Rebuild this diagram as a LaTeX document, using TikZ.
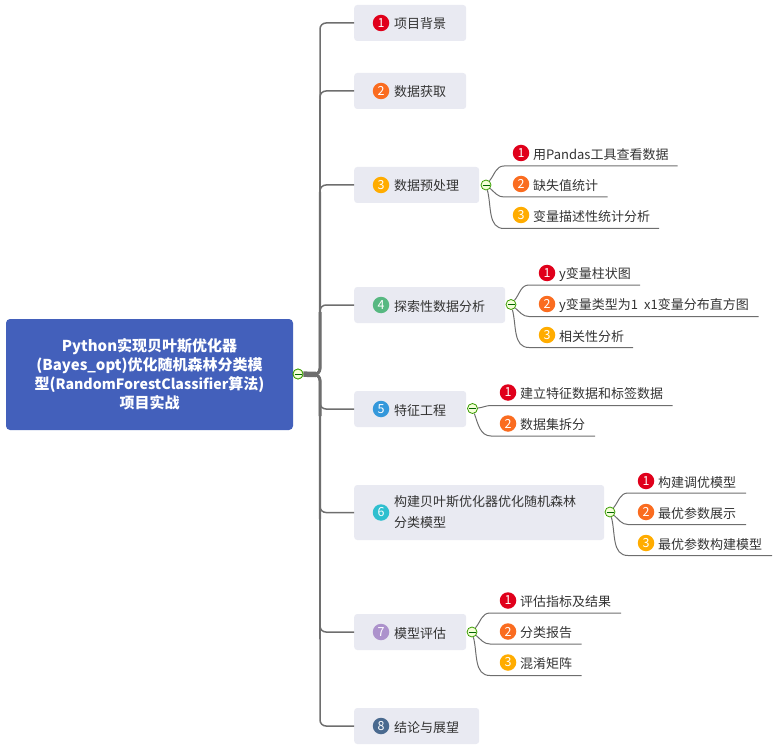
\documentclass[tikz,border=0pt]{standalone}
\usepackage{fontspec}
\setmainfont{Noto Sans CJK SC}
\definecolor{linegray}{HTML}{6E6E6E}
\definecolor{boxfill}{HTML}{E9EAF2}
\definecolor{rootfill}{HTML}{4360BB}
\definecolor{mred}{HTML}{E0001B}
\definecolor{morange}{HTML}{FA6C20}
\definecolor{myellow}{HTML}{FFAC00}
\definecolor{mgreen}{HTML}{57B881}
\definecolor{mblue}{HTML}{3498DB}
\definecolor{mteal}{HTML}{2FBFCF}
\definecolor{mpurple}{HTML}{AC92CC}
\definecolor{mslate}{HTML}{4A6A8F}
\tikzset{
    roottopic/.style={fill=rootfill, rounded corners=4pt, minimum width=287pt, minimum height=111pt, align=center, text=white, inner sep=0pt, font=\fontsize{15}{19}\selectfont\bfseries},
    topic/.style={fill=boxfill, rounded corners=3pt, anchor=west, inner xsep=20pt, inner ysep=0pt, minimum height=36pt, text=black!80, font=\fontsize{13}{21}\selectfont},
    oneline/.style={text height=13pt, text depth=1pt},
    leaf/.style={anchor=west, inner sep=0pt, text=black!80, font=\fontsize{13}{21}\selectfont},
    badge/.style={circle, minimum size=16.5pt, inner sep=0pt, text=white, font=\fontsize{12.5}{12}\selectfont},
    collapse/.style={circle, draw=green!45!black!70!lime, fill=green!25!yellow!15, line width=0.8pt, minimum size=10pt, inner sep=0pt, path picture={\draw[black!60!green, line width=0.8pt] ([xshift=1.5pt]path picture bounding box.west) -- ([xshift=-1.5pt]path picture bounding box.east);}},
    branch/.style={draw=linegray, line width=1.5pt, rounded corners=6pt},
    twig/.style={draw=linegray, line width=1pt},
}
\begin{document}
\begin{tikzpicture}[x=1pt, y=-1pt]
    \useasboundingbox (0,0) rectangle (782,754);

    \node[roottopic] at (149.5,374.5) (root) {Python实现贝叶斯优化器\\(Bayes\_opt)优化随机森林分类模\\型({\fontsize{14.2}{19}\selectfont RandomForestClassifier}算法)\\项目实战};
    \node[collapse] at (298,374) (c0) {};
    \coordinate (hub) at (320,374.5);
    \coordinate (up1) at (320,100);
    \coordinate (up2) at (320,192);
    \coordinate (up3) at (320,312);
    \coordinate (down1) at (320,416);
    \coordinate (down2) at (320,519);
    \coordinate (down3) at (320,639);
    \coordinate (stub) at (312,374.5);
    \coordinate (stubend) at (316,374.5);

    \node[topic, oneline] at (354,23) (n1) {\hspace*{20pt}项目背景};
    \node[topic, oneline] at (354,91) (n2) {\hspace*{20pt}数据获取};
    \node[topic, oneline] at (354,185) (n3) {\hspace*{20pt}数据预处理};
    \node[topic, oneline] at (354,305) (n4) {\hspace*{20pt}探索性数据分析};
    \node[topic, oneline] at (354,409) (n5) {\hspace*{20pt}特征工程};
    \node[topic, align=left, minimum height=55pt] at (354,512.5) (n6) {\hspace*{20pt}构建贝叶斯优化器优化随机森林\hspace*{8pt}\\\hspace*{20pt}分类模型};
    \node[topic, oneline] at (354,632) (n7) {\hspace*{20pt}模型评估};
    \node[topic, oneline] at (354,726) (n8) {\hspace*{20pt}结论与展望};

    \node[badge, fill=mred] at ([xshift=27pt]n1.west) (b1) {1};
    \node[badge, fill=morange] at ([xshift=27pt]n2.west) (b2) {2};
    \node[badge, fill=myellow] at ([xshift=27pt]n3.west) (b3) {3};
    \node[badge, fill=mgreen] at ([xshift=27pt]n4.west) (b4) {4};
    \node[badge, fill=mblue] at ([xshift=27pt]n5.west) (b5) {5};
    \node[badge, fill=mteal] at ([xshift=27pt]n6.west) (b6) {6};
    \node[badge, fill=mpurple] at ([xshift=27pt]n7.west) (b7) {7};
    \node[badge, fill=mslate] at ([xshift=27pt]n8.west) (b8) {8};

    \draw[branch] (stub) -- (hub) |- (n1.west);
    \draw[branch] (stub) -- (hub) |- (n2.west);
    \draw[branch] (stub) -- (hub) |- (n3.west);
    \draw[branch] (stub) -- (hub) |- (n4.west);
    \draw[branch] (stub) -- (hub) |- (n5.west);
    \draw[branch] (stub) -- (hub) |- (n6.west);
    \draw[branch] (stub) -- (hub) |- (n7.west);
    \draw[branch] (stub) -- (hub) |- (n8.west);
    \draw[branch, line width=1.9pt] (stub) -- (hub) -- (up1);
    \draw[branch, line width=2.4pt] (stub) -- (hub) -- (up2);
    \draw[branch, line width=3pt] (stub) -- (hub) -- (up3);
    \draw[branch, line width=3pt] (stub) -- (hub) -- (down1);
    \draw[branch, line width=2.4pt] (stub) -- (hub) -- (down2);
    \draw[branch, line width=1.9pt] (stub) -- (hub) -- (down3);
    \draw[branch, line width=5.5pt] (c0) -- (stubend);
    \node[collapse] at (c0) (c0top) {};

    \node[collapse] at (486,185) (c3) {};
    \node[collapse] at (511,304.5) (c4) {};
    \node[collapse] at (472.5,408.5) (c5) {};
    \node[collapse] at (610,512) (c6) {};
    \node[collapse] at (472,632) (c7) {};

    \node[badge, fill=mred] at (521,153) (b31) {1};
    \node[badge, fill=morange] at (521,184) (b32) {2};
    \node[badge, fill=myellow] at (521,215) (b33) {3};
    \node[leaf] at (533,155) (t31) {用Pandas工具查看数据};
    \node[leaf] at (533,186) (t32) {缺失值统计};
    \node[leaf] at (533,217) (t33) {变量描述性统计分析};
    \coordinate (s31) at (504,166);
    \coordinate (s32) at (504,197);
    \coordinate (s33) at (504,228.5);
    \coordinate (e31) at (677.5,166);
    \coordinate (e32) at (607.5,197);
    \coordinate (e33) at (659,228.5);
    \draw[twig] (c3) to[out=50, in=180] (s31) -- (e31);
    \draw[twig] (c3) to[out=-40, in=180] (s32) -- (e32);
    \draw[twig] (c3) to[out=-75, in=180] (s33) -- (e33);

    \node[badge, fill=mred] at (547,273) (b41) {1};
    \node[badge, fill=morange] at (547,304) (b42) {2};
    \node[badge, fill=myellow] at (547,335) (b43) {3};
    \node[leaf] at (559,275) (t41) {y变量柱状图};
    \node[leaf] at (559,306) (t42) {y变量类型为1~\hspace{3pt}x1变量分布直方图};
    \node[leaf] at (559,337) (t43) {相关性分析};
    \coordinate (s41) at (529,285);
    \coordinate (s42) at (529,316.5);
    \coordinate (s43) at (529,347.5);
    \coordinate (e41) at (640,285);
    \coordinate (e42) at (758.5,316.5);
    \coordinate (e43) at (633,347.5);
    \draw[twig] (c4) to[out=50, in=180] (s41) -- (e41);
    \draw[twig] (c4) to[out=-40, in=180] (s42) -- (e42);
    \draw[twig] (c4) to[out=-75, in=180] (s43) -- (e43);

    \node[badge, fill=mred] at (508,392.5) (b51) {1};
    \node[badge, fill=morange] at (508,423.5) (b52) {2};
    \node[leaf] at (520,394) (t51) {建立特征数据和标签数据};
    \node[leaf] at (520,425) (t52) {数据集拆分};
    \coordinate (s51) at (491,405.5);
    \coordinate (s52) at (491,436);
    \coordinate (e51) at (672.5,405.5);
    \coordinate (e52) at (595,436);
    \draw[twig] (c5) to[out=5, in=180] (s51) -- (e51);
    \draw[twig] (c5) to[out=-70, in=180] (s52) -- (e52);

    \node[badge, fill=mred] at (646,481) (b61) {1};
    \node[badge, fill=morange] at (646,512) (b62) {2};
    \node[badge, fill=myellow] at (646,543) (b63) {3};
    \node[leaf] at (658,483) (t61) {构建调优模型};
    \node[leaf] at (658,514) (t62) {最优参数展示};
    \node[leaf] at (658,545) (t63) {最优参数构建模型};
    \coordinate (s61) at (628,493);
    \coordinate (s62) at (628,524.5);
    \coordinate (s63) at (628,555.5);
    \coordinate (e61) at (746,493);
    \coordinate (e62) at (746,524.5);
    \coordinate (e63) at (772,555.5);
    \draw[twig] (c6) to[out=50, in=180] (s61) -- (e61);
    \draw[twig] (c6) to[out=-40, in=180] (s62) -- (e62);
    \draw[twig] (c6) to[out=-75, in=180] (s63) -- (e63);

    \node[badge, fill=mred] at (508,600.5) (b71) {1};
    \node[badge, fill=morange] at (508,631.5) (b72) {2};
    \node[badge, fill=myellow] at (508,662.5) (b73) {3};
    \node[leaf] at (520,602) (t71) {评估指标及结果};
    \node[leaf] at (520,633) (t72) {分类报告};
    \node[leaf] at (520,664) (t73) {混淆矩阵};
    \coordinate (s71) at (490,613);
    \coordinate (s72) at (490,644);
    \coordinate (s73) at (490,675.5);
    \coordinate (e71) at (621,613);
    \coordinate (e72) at (581.5,644);
    \coordinate (e73) at (581.5,675.5);
    \draw[twig] (c7) to[out=50, in=180] (s71) -- (e71);
    \draw[twig] (c7) to[out=-40, in=180] (s72) -- (e72);
    \draw[twig] (c7) to[out=-75, in=180] (s73) -- (e73);
\end{tikzpicture}
\end{document}
